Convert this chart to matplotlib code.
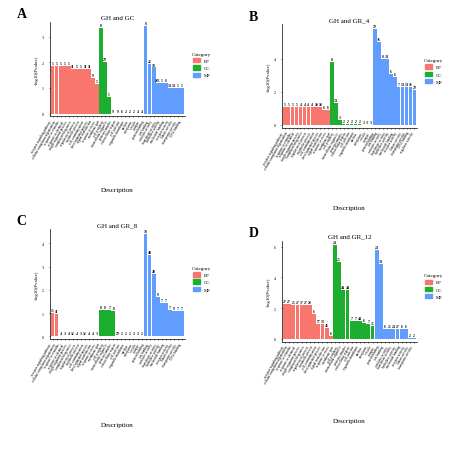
import matplotlib
matplotlib.use("Agg")
import matplotlib.pyplot as plt
import numpy as np

plt.rcParams['font.family'] = ['Liberation Serif', 'DejaVu Serif']

COLORS = {"BP": "#F8766D", "CC": "#1DAE2F", "MF": "#619CFF"}

# Panel A: GH and GC
a_cat = ["BP"]*12 + ["CC"]*11 + ["MF"]*10
a_val = [1.85,1.85,1.85,1.85,1.85,1.75,1.75,1.75,1.75,1.75,1.4,1.15,
         3.35,2.0,0.65, 0,0,0,0,0,0,0,0,
         3.4,1.95,1.8,1.2,1.2,1.2,1.0,1.0,1.0,1.0]
a_cnt = ["5","5","5","5","5","11","5","5","11","11","9","5",
         "8","29","5","9","9","6","2","2","2","4","4",
         "8","22","78","285","5","6","14","14","5","5"]

# Panel B: GH and GR_4
b_cat = ["BP"]*12 + ["CC"]*11 + ["MF"]*11
b_val = [1.1]*10 + [0.9,0.9] + \
        [3.8,1.35,0.3,0.08,0.08,0.08,0.08,0.08,0,0,0] + \
        [5.8,5.0,4.0,4.0,3.1,2.9,2.3,2.3,2.3,2.3,2.1]
b_cnt = ["5","5","5","5","4","4","4","4","10","10","6","6",
         "8","74","3","2","2","2","2","2","3","3","3",
         "29","36","8","34","6","6","7","14","14","16","29"]

# Panel C: GH and GR_8
c_cat = ["BP"]*12 + ["CC"]*11 + ["MF"]*10
c_val = [1.0,0.95] + [0]*10 + [1.15,1.15,1.12,1.1] + [0]*7 + \
        [4.4,3.5,2.7,1.7,1.45,1.45,1.15,1.1,1.1,1.1]
c_cnt = ["15","11","4","3","4","12","4","3","12","4","4","3",
         "8","8","7","8","29","2","2","2","3","3","2",
         "78","48","49","9","7","7","7","9","7","7"]

# Panel D: GH and GR_12
d_cat = ["BP"]*12 + ["CC"]*10 + ["MF"]*10
d_val = [2.3,2.3,2.2,2.2,2.2,2.2,2.2,1.6,1.0,1.0,0.7,0.2] + \
        [6.1,5.0,3.2,3.2,1.15,1.15,1.15,1.05,1.0,0.85] + \
        [5.8,4.9,0.65,0.65,0.65,0.65,0.65,0.65,0.05,0.05]
d_cnt = ["27","27","25","27","37","27","28","6","57","33","46","6",
         "24","25","44","44","7","7","44","6","7","15",
         "24","34","6","25","24","27","6","6","2","2"]

terms = ["receptor signaling pathway", "cellular component organization",
         "response to stimulus", "response to chemical", "single-organism process",
         "component biogenesis", "regulation of process", "metabolic process",
         "cell communication", "developmental process", "signal transduction",
         "response to stress", "membrane part", "cell periphery",
         "intracellular organelle", "protein complex", "extracellular region",
         "cell junction", "organelle membrane", "nucleus", "cytoplasm", "vesicle",
         "synapse", "protein binding", "ion binding", "catalytic activity",
         "transferase activity", "hydrolase activity", "nucleotide binding",
         "receptor activity", "kinase activity", "transporter activity",
         "DNA binding", "regulator activity"]

fig = plt.figure(figsize=(4.74, 4.6), dpi=100)
panels = [("A", "GH and GC", a_cat, a_val, a_cnt, [0.37*0+0.375-0.0, 0, 0, 0], [0,1,2,3])]
panels = [("A", "GH and GC", a_cat, a_val, a_cnt, [0.375, 0.75, 0.0, 0.0], [0,1,2,3])]
panels = [("A", "GH and GC", a_cat, a_val, a_cnt, [0.37, 0.75, 0.27, 0.20], [0,1,2,3])]
panels = [("A", "GH and GC", a_cat, a_val, a_cnt, [0.37/1, 0.75, 0.27, 0.20], [0,1,2,3])]
panels = [("A", "GH and GC", a_cat, a_val, a_cnt, [0.37, 0.75, 0.27, 0.20], [0,1,2,3]),
          ("B", "GH and GR_4", b_cat, b_val, b_cnt, [0.555, 0.76, 0.27, 0.20], [0,2,4]),
          ("C", "GH and GR_8", c_cat, c_val, c_cnt, [0.37, 0.26, 0.27, 0.20], [0,1,2,3,4]),
          ("D", "GH and GR_12", d_cat, d_val, d_cnt, [0.555, 0.265, 0.27, 0.20], [0,2,4,6])]
# panel x positions in figure fraction
xpos = {"A": 0.075, "B": 0.565, "C": 0.075, "D": 0.565}
ypos = {"A": 0.745, "B": 0.72, "C": 0.26, "D": 0.255}
ht = {"A": 0.205, "B": 0.225, "C": 0.24, "D": 0.22}

for letter, title, cats, vals, cnts, rect, ticks in panels:
    rect = [xpos[letter] + 0.03, ypos[letter], 0.285, ht[letter]]
    n = len(vals)
    ax = fig.add_axes(rect)
    x = np.arange(n)
    ax.bar(x, vals, width=0.9, color=[COLORS[c] for c in cats])
    for xi, v, t in zip(x, vals, cnts):
        ax.text(xi, v + max(vals)*0.01, t, ha="center", va="bottom", fontsize=2.6, fontweight="bold")
    ax.set_xticks(x)
    ax.set_xticklabels([terms[i % len(terms)] for i in range(n)], rotation=60,
                       ha="right", fontsize=2.4)
    ax.set_yticks(ticks)
    ax.tick_params(axis="y", labelsize=3, length=1, width=0.4)
    ax.tick_params(axis="x", length=1, width=0.4, pad=1)
    ax.set_xlim(-0.7, n - 0.3)
    ax.set_ylim(-max(vals)*0.03, max(vals)*1.05)
    for s in ["top", "right"]:
        ax.spines[s].set_visible(False)
    for s in ["left", "bottom"]:
        ax.spines[s].set_linewidth(0.5)
    ax.set_ylabel("-log10(Pvalue)", fontsize=3.5, labelpad=2)
    ax.set_title(title, fontsize=5, pad=2)
    ax.set_xlabel("Description", fontsize=5, labelpad=2)
    ax.xaxis.set_label_coords(0.5, -0.75)
    fig.text(xpos[letter] - 0.04, rect[1] + rect[3] + 0.01, letter, fontsize=10, fontweight="bold")
    handles = [plt.Rectangle((0, 0), 1, 1, color=COLORS[k]) for k in ["BP", "CC", "MF"]]
    ax.legend(handles, ["BP", "CC", "MF"], title="Category", loc="center left",
              bbox_to_anchor=(1.02, 0.55), fontsize=3.5, title_fontsize=3.8,
              frameon=False, handlelength=1.5, handleheight=1.0)

fig.savefig("out.png", dpi=100)
